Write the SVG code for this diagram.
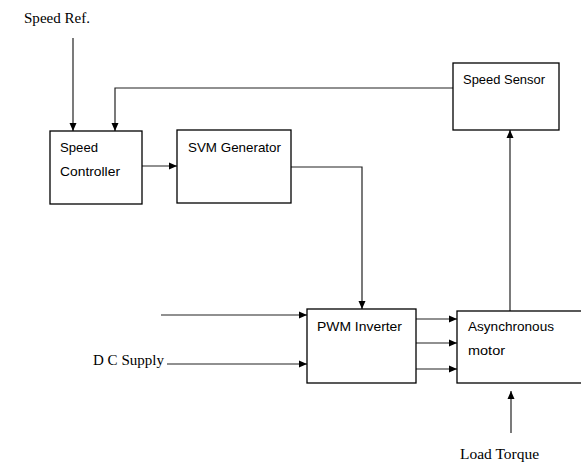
<svg xmlns="http://www.w3.org/2000/svg" width="581" height="463" viewBox="0 0 581 463">
<style>
.box{fill:#fff;stroke:#000;stroke-width:1.3}
.ln{fill:none;stroke:#222;stroke-width:1.2}
.sans{font-family:"Liberation Sans","Open Sans",sans-serif;font-size:13px;fill:#000}
.serif{font-family:"Liberation Serif","Times New Roman",serif;font-size:14.5px;fill:#000}
</style>
<defs>
<marker id="ah" markerWidth="8" markerHeight="8" refX="8" refY="4" orient="auto" markerUnits="userSpaceOnUse">
<path d="M0,0.5 L8,4 L0,7.5 Z" fill="#000"/>
</marker>
</defs>
<rect width="581" height="463" fill="#fff"/>
<g id="connectors">
<path class="ln" d="M73,38 V131" marker-end="url(#ah)"/>
<path class="ln" d="M453,88 H115 V131" marker-end="url(#ah)"/>
<path class="ln" d="M142,166 H177" marker-end="url(#ah)"/>
<path class="ln" d="M291,167 H362 V309" marker-end="url(#ah)"/>
<path class="ln" d="M161,315 H307" marker-end="url(#ah)"/>
<path class="ln" d="M167,364 H307" marker-end="url(#ah)"/>
<path class="ln" d="M416,319 H457" marker-end="url(#ah)"/>
<path class="ln" d="M416,343 H457" marker-end="url(#ah)"/>
<path class="ln" d="M416,369 H457" marker-end="url(#ah)"/>
<path class="ln" d="M510,311 V130" marker-end="url(#ah)"/>
<path class="ln" d="M511,433 V391" marker-end="url(#ah)"/>
</g>
<g id="speed-ref"><text class="serif" x="24" y="23" textLength="66" lengthAdjust="spacingAndGlyphs">Speed Ref.</text></g>
<g id="speed-controller">
<rect class="box" x="50" y="131" width="92" height="73"/>
<text class="sans" x="60" y="152" textLength="38" lengthAdjust="spacingAndGlyphs">Speed</text>
<text class="sans" x="60" y="176" textLength="60" lengthAdjust="spacingAndGlyphs">Controller</text>
</g>
<g id="svm-generator">
<rect class="box" x="177" y="130" width="114" height="73"/>
<text class="sans" x="188" y="152" textLength="93" lengthAdjust="spacingAndGlyphs">SVM Generator</text>
</g>
<g id="speed-sensor">
<rect class="box" x="453" y="63" width="106" height="67"/>
<text class="sans" x="463" y="84" textLength="82" lengthAdjust="spacingAndGlyphs">Speed Sensor</text>
</g>
<g id="pwm-inverter">
<rect class="box" x="307" y="309" width="109" height="74"/>
<text class="sans" x="317" y="331" textLength="85" lengthAdjust="spacingAndGlyphs">PWM Inverter</text>
</g>
<g id="asynchronous-motor">
<rect class="box" x="457" y="311" width="130" height="72"/>
<text class="sans" x="468" y="331" textLength="86" lengthAdjust="spacingAndGlyphs">Asynchronous</text>
<text class="sans" x="468" y="355" textLength="37" lengthAdjust="spacingAndGlyphs">motor</text>
</g>
<g id="dc-supply"><text class="serif" x="93" y="365" textLength="71" lengthAdjust="spacingAndGlyphs">D C Supply</text></g>
<g id="load-torque"><text class="serif" x="460" y="459" textLength="79" lengthAdjust="spacingAndGlyphs">Load Torque</text></g>
</svg>
